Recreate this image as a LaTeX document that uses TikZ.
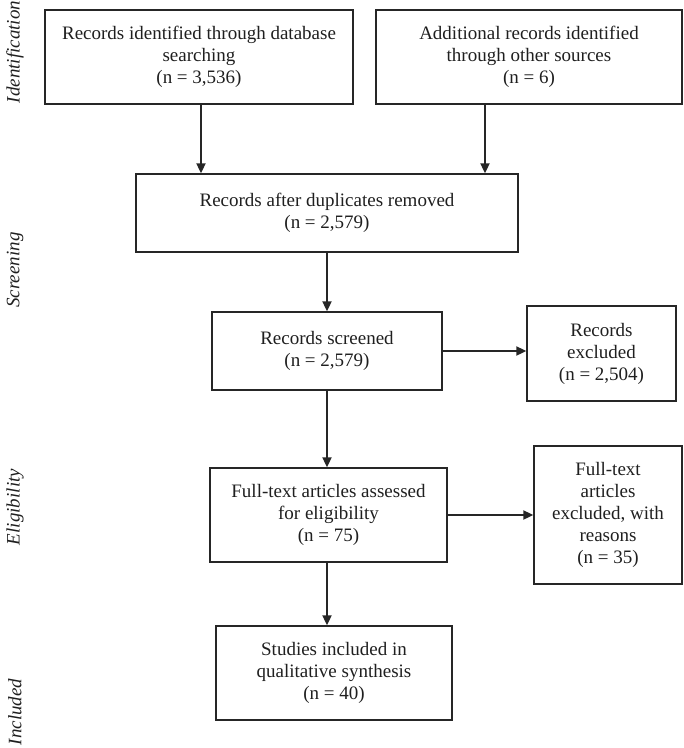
\documentclass[tikz,border=0pt]{standalone}
\usepackage{fontspec}
\setmainfont{Liberation Serif}
\usepackage{tikz}
\usetikzlibrary{arrows.meta}

\tikzset{
  flowbox/.style={draw=black!85, line width=1.3pt, align=center, inner sep=0pt,
    text=black!88, font=\fontsize{19}{22}\selectfont},
  flowarrow/.style={draw=black!85, line width=1.8pt,
    -{Triangle[length=10pt,width=9pt]}},
  phase/.style={rotate=90, text=black!88, font=\fontsize{19}{22}\selectfont\itshape}
}

\begin{document}
\begin{tikzpicture}[x=1pt,y=-1pt]
    \useasboundingbox (0,0) rectangle (684,748);
    % phase labels
    \node[phase] (idlab) at (15,52) {Identification};
    \node[phase] (sclab) at (15,270) {Screening};
    \node[phase] (ellab) at (15,507) {Eligibility};
    \node[phase] (inlab) at (15,712) {Included};
    % boxes
    \node[flowbox, minimum width=308pt, minimum height=94pt] (dbase) at (199,57)
      {Records identified through database\\searching\\(n = 3,536)};
    \node[flowbox, minimum width=306pt, minimum height=94pt] (other) at (529,57)
      {Additional records identified\\through other sources\\(n = 6)};
    \node[flowbox, minimum width=382pt, minimum height=78pt] (dupl) at (327,213)
      {Records after duplicates removed\\(n = 2,579)};
    \node[flowbox, minimum width=230pt, minimum height=78pt] (screen) at (327,351)
      {Records screened\\(n = 2,579)};
    \node[flowbox, minimum width=149pt, minimum height=95pt] (excl) at (601.5,353.5)
      {Records\\excluded\\(n = 2,504)};
    \node[flowbox, minimum width=237pt, minimum height=94pt] (full) at (328.5,515)
      {Full-text articles assessed\\for eligibility\\(n = 75)};
    \node[flowbox, minimum width=148pt, minimum height=138pt] (fullex) at (608,515)
      {Full-text\\articles\\excluded, with\\reasons\\(n = 35)};
    \node[flowbox, minimum width=236pt, minimum height=94pt] (incl) at (334,673)
      {Studies included in\\qualitative synthesis\\(n = 40)};
    % arrows
    \draw[flowarrow] ([xshift=2pt]dbase.south) -- ([xshift=2pt]dbase.south |- dupl.north);
    \draw[flowarrow] ([xshift=-44pt]other.south) -- ([xshift=-44pt]other.south |- dupl.north);
    \draw[flowarrow] (dupl.south) -- (dupl.south |- screen.north);
    \draw[flowarrow] (screen.east) -- (screen.east -| excl.west);
    \draw[flowarrow] (screen.south) -- (screen.south |- full.north);
    \draw[flowarrow] (full.east) -- (full.east -| fullex.west);
    \draw[flowarrow] ([xshift=-1.5pt]full.south) -- ([xshift=-1.5pt]full.south |- incl.north);
\end{tikzpicture}
\end{document}
